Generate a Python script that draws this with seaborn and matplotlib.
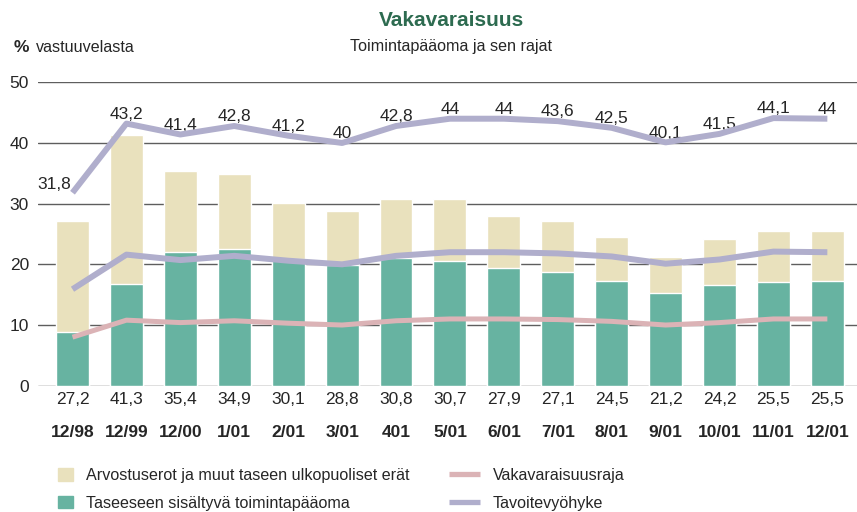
import matplotlib
matplotlib.use("Agg")
import matplotlib.pyplot as plt
import matplotlib.patches as mpatches
import matplotlib.lines as mlines
import matplotlib.transforms as mtrans
import numpy as np
import pandas as pd
import seaborn as sns

# ---- data ----
categories = ["12/98", "12/99", "12/00", "1/01", "2/01", "3/01", "401", "5/01",
              "6/01", "7/01", "8/01", "9/01", "10/01", "11/01", "12/01"]
total = [27.2, 41.3, 35.4, 34.9, 30.1, 28.8, 30.8, 30.7, 27.9, 27.1, 24.5, 21.2, 24.2, 25.5, 25.5]
total_labels = ["27,2", "41,3", "35,4", "34,9", "30,1", "28,8", "30,8", "30,7",
                "27,9", "27,1", "24,5", "21,2", "24,2", "25,5", "25,5"]
balance = [8.9, 16.8, 22.0, 22.5, 20.9, 19.9, 21.0, 20.5, 19.4, 18.7, 17.2, 15.3, 16.6, 17.1, 17.2]
target_upper = [31.8, 43.2, 41.4, 42.8, 41.2, 40.0, 42.8, 44.0, 44.0, 43.6, 42.5, 40.1, 41.5, 44.1, 44.0]
target_upper_labels = ["31,8", "43,2", "41,4", "42,8", "41,2", "40", "42,8", "44",
                       "44", "43,6", "42,5", "40,1", "41,5", "44,1", "44"]
target_lower = [15.9, 21.6, 20.7, 21.4, 20.6, 20.0, 21.4, 22.0, 22.0, 21.8, 21.3, 20.1, 20.8, 22.1, 22.0]
solvency_limit = [8.0, 10.8, 10.4, 10.7, 10.3, 10.0, 10.7, 11.0, 11.0, 10.9, 10.6, 10.0, 10.4, 11.0, 11.0]

ytick_vals = [0, 10, 20, 30, 40, 50]

# ---- style ----
sns.set_style("white")
FONT = ["Liberation Sans", "DejaVu Sans"]
plt.rcParams["font.family"] = FONT

C_BEIGE = "#e9e1bd"
C_GREEN = "#67b3a1"
C_PINK = "#dbb3b6"
C_PURPLE = "#b0aecc"
C_GRID = "#5e5e5e"
C_TITLE = "#2d6b50"
FS = 12.5    # numbers
FS_W = 11.6  # words

fig = plt.figure(figsize=(8.57, 5.12), dpi=100)
ax = fig.add_axes([38 / 857, 126.3 / 512, 819 / 857, 303.4 / 512])

df = pd.DataFrame({"cat": categories, "total": total, "balance": balance,
                   "upper": target_upper, "lower": target_lower, "limit": solvency_limit,
                   "pos": np.arange(len(categories))})

sns.barplot(data=df, x="cat", y="total", order=categories, color=C_BEIGE,
            width=0.61, saturation=1, ax=ax, zorder=2)
sns.barplot(data=df, x="cat", y="balance", order=categories, color=C_GREEN,
            width=0.61, saturation=1, ax=ax, zorder=3)

sns.lineplot(data=df, x="pos", y="limit", color=C_PINK, lw=3.6, ax=ax, zorder=4,
             solid_capstyle="butt")
sns.lineplot(data=df, x="pos", y="lower", color=C_PURPLE, lw=4.3, ax=ax, zorder=5,
             solid_capstyle="butt")
sns.lineplot(data=df, x="pos", y="upper", color=C_PURPLE, lw=4.3, ax=ax, zorder=5,
             solid_capstyle="butt")

ax.set_xlim(-0.64, 14.55)
ax.set_ylim(0, 50)
ax.set_xlabel("")
ax.set_ylabel("")
for s in ax.spines.values():
    s.set_visible(False)
ax.set_yticks(ytick_vals)
ax.set_yticklabels([str(v) for v in ytick_vals], fontsize=FS)
ax.tick_params(axis="y", length=0, pad=6.5)
ax.set_xticks([])
ax.yaxis.grid(True, color=C_GRID, lw=1.0, zorder=0)
ax.set_axisbelow(True)
ax.patch.set_alpha(0)

# upper target labels
for i, (v, lab) in enumerate(zip(target_upper, target_upper_labels)):
    if i == 0:
        ax.annotate(lab, (i, v), xytext=(-1, 3), textcoords="offset points",
                    ha="right", va="baseline", fontsize=FS)
    else:
        ax.annotate(lab, (i, v), xytext=(0, 3.5), textcoords="offset points",
                    ha="center", va="baseline", fontsize=FS)

# value row and category row below axis
trans = mtrans.blended_transform_factory(ax.transData, ax.transAxes)
for i, (lab, cat) in enumerate(zip(total_labels, categories)):
    ax.text(i, -0.047, lab, transform=trans, ha="center", va="center", fontsize=FS)
    ax.text(i, -0.153, cat, transform=trans, ha="center", va="center",
            fontsize=FS, fontweight="bold")

# titles
fig.text(451 / 857, 1 - 20 / 512, "Vakavaraisuus", ha="center", va="center",
         fontsize=15, fontweight="bold", color=C_TITLE)
fig.text(451 / 857, 1 - 47 / 512, "Toimintapääoma ja sen rajat", ha="center",
         va="center", fontsize=FS_W)
fig.text(14 / 857, 1 - 48 / 512, "%", ha="left", va="center", fontsize=FS,
         fontweight="bold")
fig.text(36 / 857, 1 - 48 / 512, "vastuuvelasta", ha="left", va="center", fontsize=FS_W)

# legends
h1 = [mpatches.Patch(color=C_BEIGE, label="Arvostuserot ja muut taseen ulkopuoliset erät"),
      mpatches.Patch(color=C_GREEN, label="Taseeseen sisältyvä toimintapääoma")]
leg1 = fig.legend(handles=h1, loc="upper left", bbox_to_anchor=(58 / 857, 1 - 468 / 512),
                  frameon=False, fontsize=FS_W, handlelength=0.93, handleheight=0.8,
                  handletextpad=0.8, labelspacing=0.78, borderpad=0, borderaxespad=0)
h2 = [mlines.Line2D([], [], color=C_PINK, lw=3.8, solid_capstyle="butt", label="Vakavaraisuusraja"),
      mlines.Line2D([], [], color=C_PURPLE, lw=3.8, solid_capstyle="butt", label="Tavoitevyöhyke")]
leg2 = fig.legend(handles=h2, loc="upper left", bbox_to_anchor=(449 / 857, 1 - 468 / 512),
                  frameon=False, fontsize=FS_W, handlelength=1.95, handletextpad=0.75,
                  labelspacing=0.78, borderpad=0, borderaxespad=0)

fig.savefig("out.png", dpi=100)
